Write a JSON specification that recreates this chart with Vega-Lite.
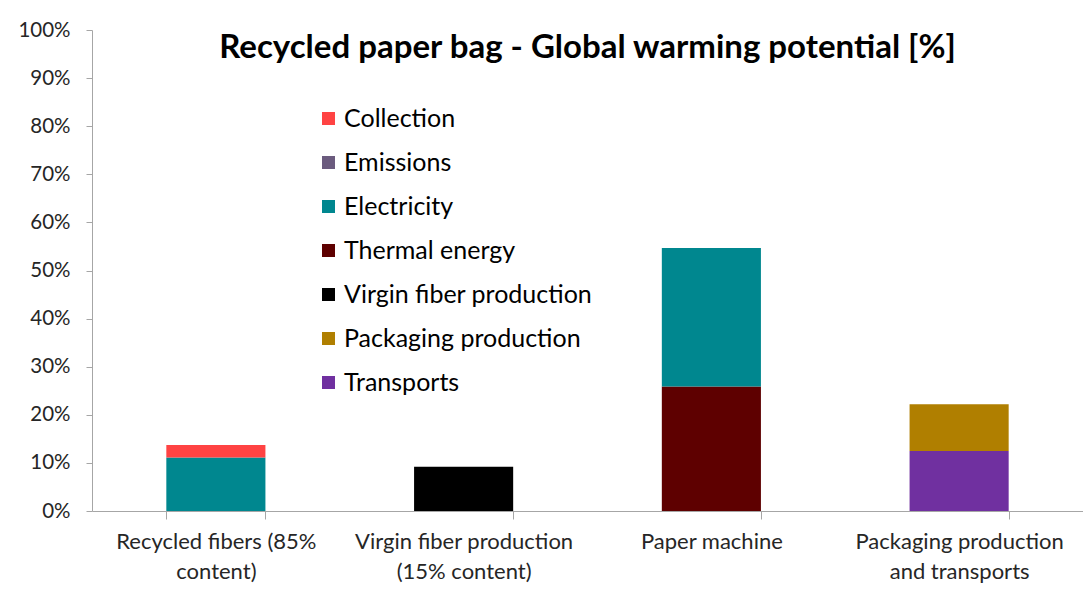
{
  "$schema": "https://vega.github.io/schema/vega-lite/v6.json",
  "autosize": "none",
  "width": 991,
  "height": 481,
  "padding": {"left": 92, "top": 30, "right": 0, "bottom": 94},
  "background": "white",
  "config": {
    "font": "Lato",
    "view": {"stroke": null}
  },
  "title": {
    "text": "Recycled paper bag - Global warming potential [%]",
    "fontSize": 33,
    "fontWeight": "bold",
    "font": "Lato",
    "color": "#000000",
    "anchor": "middle",
    "frame": "group",
    "baseline": "alphabetic",
    "offset": 0,
    "dy": 71
  },
  "data": {
    "values": [
      {"process": "Recycled fibers (85% content)", "source": "Electricity", "rank": 5, "value": 0.111},
      {"process": "Recycled fibers (85% content)", "source": "Collection", "rank": 7, "value": 0.026},
      {"process": "Virgin fiber production (15% content)", "source": "Virgin fiber production", "rank": 3, "value": 0.092},
      {"process": "Paper machine", "source": "Thermal energy", "rank": 4, "value": 0.259},
      {"process": "Paper machine", "source": "Electricity", "rank": 5, "value": 0.288},
      {"process": "Packaging production and transports", "source": "Transports", "rank": 1, "value": 0.125},
      {"process": "Packaging production and transports", "source": "Packaging production", "rank": 2, "value": 0.097}
    ]
  },
  "mark": {"type": "bar"},
  "encoding": {
    "x": {
      "field": "process",
      "type": "nominal",
      "sort": null,
      "scale": {"paddingInner": 0.6, "paddingOuter": 0.3},
      "axis": {
        "title": null,
        "labelAngle": 0,
        "labelFontSize": 22,
        "labelColor": "#262626",
        "labelLineHeight": 30,
        "labelPadding": 12,
        "labelBaseline": "top",
        "labelLimit": 0,
        "tickBand": "extent",
        "tickSize": 8,
        "tickColor": "#A6A6A6",
        "domainColor": "#A6A6A6",
        "labelExpr": "datum.value == 'Recycled fibers (85% content)' ? ['Recycled fibers (85%', 'content)'] : datum.value == 'Virgin fiber production (15% content)' ? ['Virgin fiber production', '(15% content)'] : datum.value == 'Packaging production and transports' ? ['Packaging production', 'and transports'] : datum.value"
      }
    },
    "y": {
      "field": "value",
      "type": "quantitative",
      "stack": "zero",
      "scale": {"domain": [0, 1], "nice": false},
      "axis": {
        "title": null,
        "format": ".0%",
        "values": [0, 0.1, 0.2, 0.3, 0.4, 0.5, 0.6, 0.7, 0.8, 0.9, 1],
        "grid": false,
        "labelFontSize": 20.5,
        "labelColor": "#262626",
        "labelPadding": 16,
        "tickSize": 6,
        "tickColor": "#A6A6A6",
        "domainColor": "#A6A6A6"
      }
    },
    "order": {"field": "rank", "type": "quantitative", "sort": "ascending"},
    "color": {
      "field": "source",
      "type": "nominal",
      "scale": {
        "domain": ["Collection", "Emissions", "Electricity", "Thermal energy", "Virgin fiber production", "Packaging production", "Transports"],
        "range": ["#FF4343", "#6B5B7E", "#00878F", "#5E0000", "#000000", "#B07F00", "#7030A0"]
      },
      "legend": {
        "title": null,
        "orient": "none",
        "legendX": 224,
        "legendY": 76,
        "symbolType": "square",
        "symbolSize": 169,
        "symbolStrokeWidth": 0,
        "labelFontSize": 25,
        "labelColor": "#000000",
        "labelOffset": 3,
        "labelLimit": 0,
        "rowPadding": 18,
        "padding": 0
      }
    }
  }
}
